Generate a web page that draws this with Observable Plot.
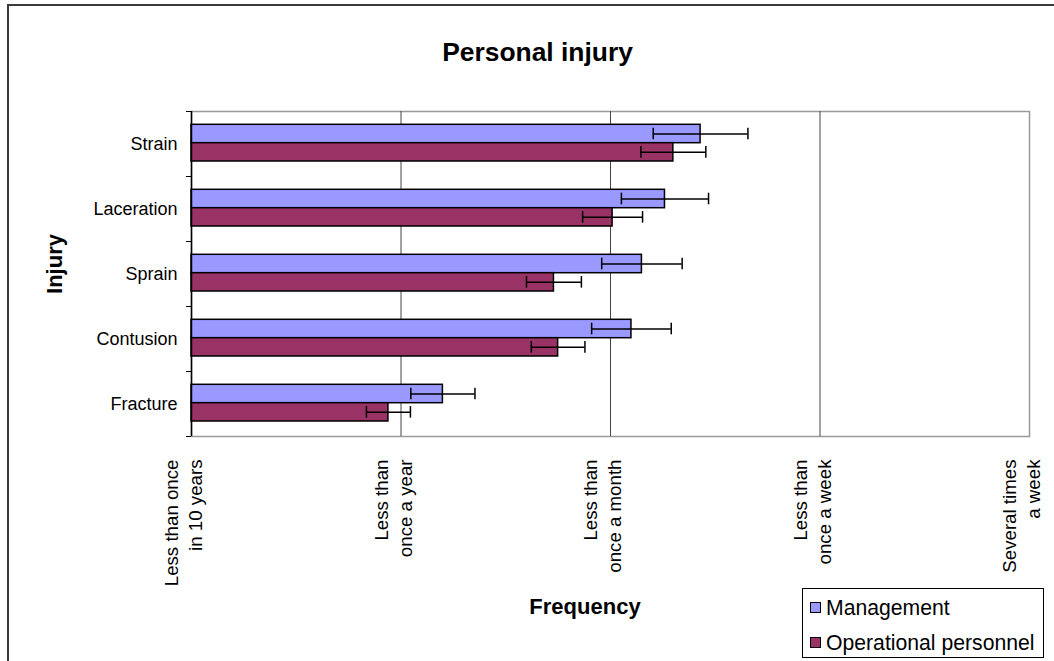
<!DOCTYPE html>
<html>
<head>
<meta charset="utf-8">
<script src="https://cdn.jsdelivr.net/npm/d3@7"></script>
<script src="https://cdn.jsdelivr.net/npm/@observablehq/plot@0.6"></script>
<style>
  html, body { margin: 0; padding: 0; background: #fff; overflow: hidden; }
  #wrap { position: relative; width: 1054px; height: 661px; overflow: hidden; background: #fff;
          font-family: "Liberation Sans", Arial, sans-serif; color: #000; }
  #border { position: absolute; left: 7px; top: 4px; width: 1100px; height: 700px; border: 2px solid #3a3a3a; box-sizing: border-box; }
  #chart { position: absolute; left: 0; top: 0; }
  #title { position: absolute; left: 537.5px; top: 39px; transform: translateX(-50%); font-size: 26.4px; font-weight: bold; line-height: 26px; white-space: nowrap; }
  #ylabel { position: absolute; left: 55px; top: 264px; transform: translate(-50%, -50%) rotate(-90deg); font-size: 22px; font-weight: bold; line-height: 22px; white-space: nowrap; }
  #xlabel { position: absolute; left: 585px; top: 596px; transform: translateX(-50%); font-size: 22px; font-weight: bold; line-height: 22px; white-space: nowrap; }
  #legend { position: absolute; left: 802px; top: 588px; width: 242px; height: 70px; border: 1px solid #000; box-sizing: border-box; background: #fff; }
  .item { position: absolute; left: 7px; height: 24px; display: flex; align-items: center; font-size: 21.2px; line-height: 24px; white-space: nowrap; }
  .sw { width: 9px; height: 9px; border: 1px solid #000; margin-right: 5px; }
</style>
</head>
<body>
<div id="wrap">
  <div id="border"></div>
  <div id="chart"></div>
  <div id="title">Personal injury</div>
  <div id="ylabel">Injury</div>
  <div id="xlabel">Frequency</div>
  <div id="legend"></div>
</div>
<script>
const injuries = ["Strain", "Laceration", "Sprain", "Contusion", "Fracture"];
const groups = ["Management", "Operational personnel"];
const groupColors = ["#9999ff", "#993366"];
const management = [2.43, 2.26, 2.15, 2.10, 1.20];
const managementErr = [0.226, 0.208, 0.192, 0.190, 0.153];
const operational = [2.30, 2.01, 1.73, 1.75, 0.94];
const operationalErr = [0.155, 0.143, 0.131, 0.128, 0.105];
const frequencyTicks = [0, 1, 2, 3, 4];
const frequencyLabels = [
  "Less than once\nin 10 years",
  "Less than\nonce a year",
  "Less than\nonce a month",
  "Less than\nonce a week",
  "Several times\na week"
];

const mRows = injuries.map((injury, i) => ({injury, value: management[i], err: managementErr[i]}));
const oRows = injuries.map((injury, i) => ({injury, value: operational[i], err: operationalErr[i]}));

const W = 1054, H = 661, ML = 191, MR = 25, MT = 111, MB = 225;
const innerW = W - ML - MR;
const band = (H - MT - MB) / injuries.length;

const errMarks = (rows, top, bottom) => {
  const center = (top + (band - bottom)) / 2;
  const dy = center - band / 2;
  const capHalf = 5.8;
  return [
    Plot.ruleY(rows, {y: "injury", x1: d => d.value - d.err, x2: d => d.value + d.err, dy, stroke: "#000", strokeWidth: 1.5}),
    Plot.tickX(rows, {x: d => d.value - d.err, y: "injury", insetTop: center - capHalf, insetBottom: band - center - capHalf, stroke: "#000", strokeWidth: 1.5}),
    Plot.tickX(rows, {x: d => d.value + d.err, y: "injury", insetTop: center - capHalf, insetBottom: band - center - capHalf, stroke: "#000", strokeWidth: 1.5})
  ];
};

const chart = Plot.plot({
  width: W,
  height: H,
  marginLeft: ML,
  marginRight: MR,
  marginTop: MT,
  marginBottom: MB,
  style: {fontFamily: "'Liberation Sans', Arial, sans-serif", fontSize: "18px", color: "#000", background: "transparent", overflow: "visible"},
  x: {domain: [0, 4], axis: null},
  y: {domain: injuries, padding: 0, round: false, label: null},
  marks: [
    Plot.frame({stroke: "#999", strokeWidth: 1.5}),
    Plot.ruleX([1, 2, 3], {stroke: "#444", strokeWidth: 1}),
    Plot.barX(mRows, {x1: 0, x2: "value", y: "injury", insetTop: 13.3, insetBottom: band - 31.7, fill: groupColors[0], stroke: "#000", strokeWidth: 1.5}),
    Plot.barX(oRows, {x1: 0, x2: "value", y: "injury", insetTop: 31.7, insetBottom: band - 50, fill: groupColors[1], stroke: "#000", strokeWidth: 1.5}),
    ...errMarks(mRows, 13.3, band - 31.7),
    ...errMarks(oRows, 31.7, band - 50),
    Plot.ruleX([0], {stroke: "#000", strokeWidth: 1.5}),
    Plot.ruleY(injuries, {y: d => d, dy: -band / 2, dx: -5, insetRight: innerW - 5, stroke: "#000", strokeWidth: 1}),
    Plot.ruleY([injuries[injuries.length - 1]], {y: d => d, dy: band / 2, dx: -5, insetRight: innerW - 5, stroke: "#000", strokeWidth: 1}),
    Plot.axisY({tickSize: 0, tickPadding: 14, label: null, fontSize: 18}),
    Plot.text(frequencyTicks, {
      x: d => d,
      text: (d, i) => frequencyLabels[i],
      frameAnchor: "bottom",
      rotate: -90,
      textAnchor: "end",
      lineAnchor: "middle",
      lineHeight: 1.3,
      dy: 23,
      dx: -9,
      fontSize: 18.7,
      fill: "#000"
    })
  ]
});
document.getElementById("chart").appendChild(chart);

const legend = document.getElementById("legend");
const centers = [18.7, 53.7];
groups.forEach((g, i) => {
  const it = document.createElement("div");
  it.className = "item";
  it.style.top = (centers[i] - 12) + "px";
  const sw = document.createElement("span");
  sw.className = "sw";
  sw.style.background = groupColors[i];
  const tx = document.createElement("span");
  tx.textContent = g;
  it.appendChild(sw);
  it.appendChild(tx);
  legend.appendChild(it);
});
</script>
</body>
</html>
